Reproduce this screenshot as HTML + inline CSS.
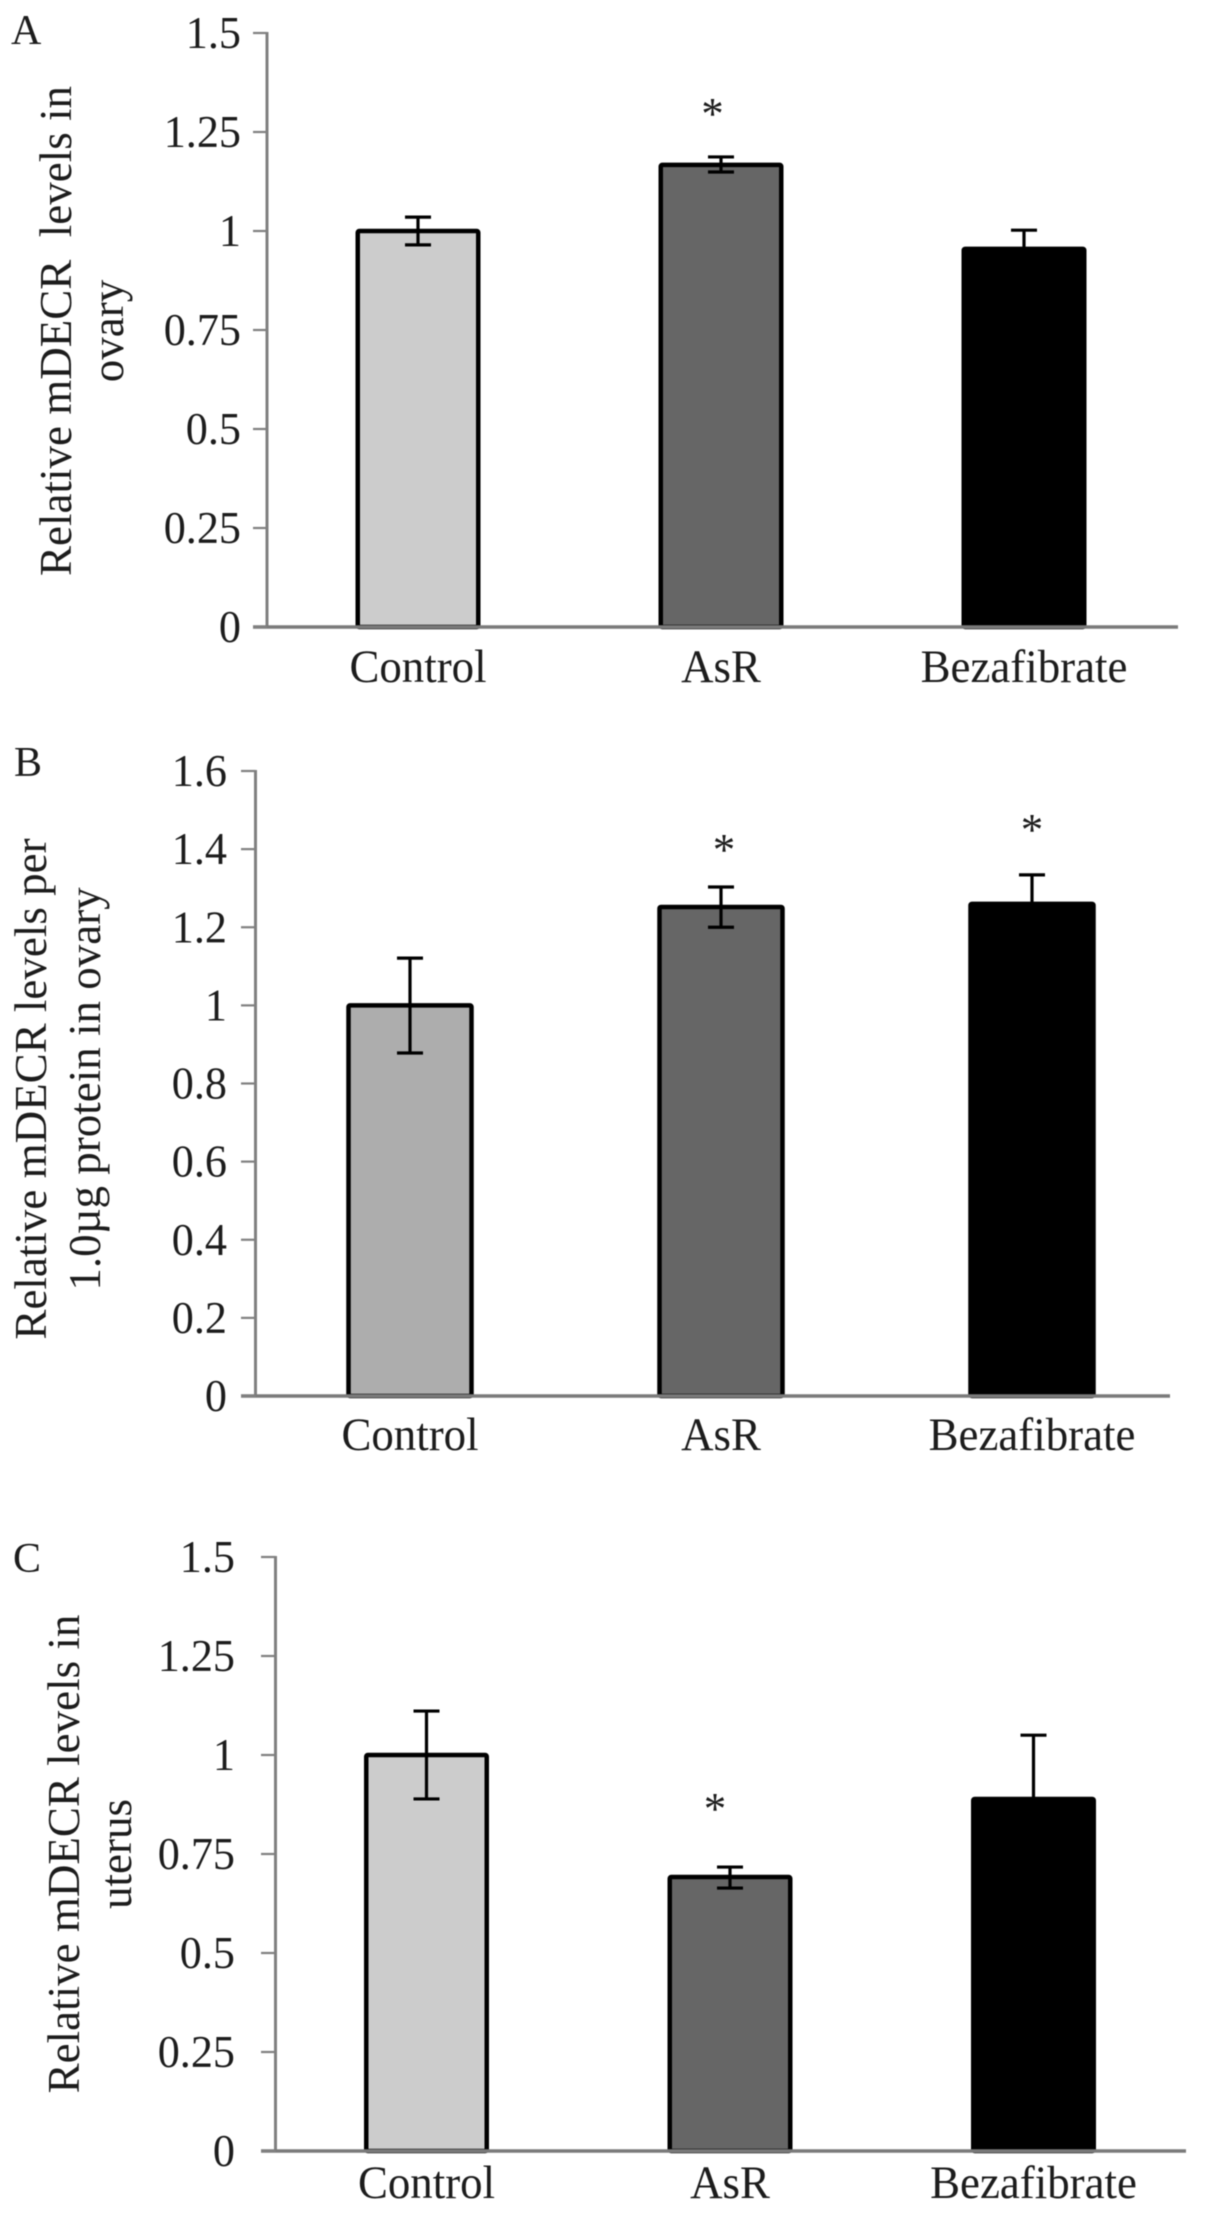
<!DOCTYPE html>
<html lang="en">
<head>
<meta charset="utf-8">
<title>Relative mDECR levels</title>
<style>
html,body{margin:0;padding:0;background:#fff;width:1205px;height:2213px;overflow:hidden}
svg{display:block;filter:blur(0.6px)}
text{font-family:"Liberation Serif",serif;fill:#1c1c1c}
</style>
</head>
<body>
<svg id="figure" xmlns="http://www.w3.org/2000/svg" width="1205" height="2213" viewBox="0 0 1205 2213"></svg>
<script>
// Shared categories
const categories = ['Control', 'AsR', 'Bezafibrate'];
const groupColors = ['#cccccc', '#666666', '#000000'];

// Panel A
const valuesA = [1.0, 1.167, 0.955];
const errUpperA = [1.035, 1.187, 1.002];
const errLowerA = [0.965, 1.149, 0.905];
const starLevelsA = [null, 1.313, null];
const tickValuesA = [0, 0.25, 0.5, 0.75, 1, 1.25, 1.5];
const tickLabelsA = ['0', '0.25', '0.5', '0.75', '1', '1.25', '1.5'];
const titleLinesA = ['Relative mDECR  levels in', 'ovary'];

// Panel B
const valuesB = [1.0, 1.252, 1.26];
const errUpperB = [1.121, 1.303, 1.334];
const errLowerB = [0.878, 1.2, 1.19];
const starLevelsB = [null, 1.416, 1.467];
const tickValuesB = [0, 0.2, 0.4, 0.6, 0.8, 1, 1.2, 1.4, 1.6];
const tickLabelsB = ['0', '0.2', '0.4', '0.6', '0.8', '1', '1.2', '1.4', '1.6'];
const titleLinesB = ['Relative mDECR levels per', '1.0µg protein in ovary'];

// Panel C
const valuesC = [1.0, 0.692, 0.889];
const errUpperC = [1.111, 0.717, 1.05];
const errLowerC = [0.889, 0.664, 0.73];
const starLevelsC = [null, 0.881, null];
const tickValuesC = [0, 0.25, 0.5, 0.75, 1, 1.25, 1.5];
const tickLabelsC = ['0', '0.25', '0.5', '0.75', '1', '1.25', '1.5'];
const titleLinesC = ['Relative mDECR levels in', 'uterus'];

const svg = document.getElementById('figure');
const NS = 'http://www.w3.org/2000/svg';

function make(parent, tag, attrs, content) {
  const el = document.createElementNS(NS, tag);
  for (const k in attrs) el.setAttribute(k, attrs[k]);
  if (content !== undefined) el.textContent = content;
  parent.appendChild(el);
  return el;
}

function drawPanel(p) {
  const yScale = v => p.y0 - (v / p.yMax) * (p.y0 - p.yTop);
  const xScale = i => p.xStart + p.xStep * i;

  const g = make(svg, 'g', {});
  
  

  const letter = make(g, 'text', {x: p.letterX, y: p.letterY, 'font-size': 42}, p.letter);
  
  

  p.titleLines.forEach((line, i) => {
    const bx = p.titleX + i * p.titleStep;
    const t = make(g, 'text', {
      x: bx, y: p.titleY, 'font-size': 45, 'text-anchor': 'middle',
      transform: 'rotate(-90 ' + bx + ' ' + p.titleY + ')',
      style: 'white-space:pre'
    }, line);
    
    
  });

  categories.forEach((cat, i) => {
    const cx = xScale(i);
    const top = yScale(p.values[i]);
    const bar = make(g, 'rect', {
      x: cx - p.barWidth / 2 + 2.25, y: top, width: p.barWidth - 4.5, height: p.y0 - top,
      rx: 1.5, fill: p.colors[i], stroke: '#000', 'stroke-width': 4.5
    });
    
    

    const up = yScale(p.errUpper[i]);
    const low = yScale(p.errLower[i]);
    const err = make(g, 'path', {
      d: 'M' + cx + ' ' + up + 'V' + low +
         'M' + (cx - p.capWidth / 2) + ' ' + up + 'H' + (cx + p.capWidth / 2) +
         'M' + (cx - p.capWidth / 2) + ' ' + low + 'H' + (cx + p.capWidth / 2),
      fill: 'none', stroke: '#000', 'stroke-width': 3.2
    });
    
    

    if (p.starLevels[i] !== null) {
      const star = make(g, 'text', {
        x: cx + (p.starShift[i] || 0), y: yScale(p.starLevels[i]) + 22,
        'font-size': 45, 'text-anchor': 'middle'
      }, '*');
      
      
    }

    const label = make(g, 'text', {
      'font-size': 47, 'text-anchor': 'middle',
      transform: 'translate(' + (cx + p.labelShift) + ' ' + p.labelY + ') scale(0.955 1)'
    }, cat);
    
    
  });

  const yAxis = make(g, 'line', {
    x1: p.xAxis, x2: p.xAxis, y1: p.yTop - 1, y2: p.y0,
    stroke: '#808080', 'stroke-width': 3
  });
  
  

  const xAxis = make(g, 'line', {
    x1: p.tickStart, x2: p.xEnd, y1: p.y0, y2: p.y0,
    stroke: '#7a7a7a', 'stroke-width': 3.5
  });
  
  

  p.tickValues.forEach((v, i) => {
    const y = yScale(v);
    const tick = make(g, 'line', {
      x1: p.tickStart, x2: p.xAxis, y1: y, y2: y,
      stroke: '#808080', 'stroke-width': 2.2
    });
    
    

    const tl = make(g, 'text', {
      'font-size': 46, 'text-anchor': 'end',
      transform: 'translate(' + p.tickLabelX + ' ' + (y + 15) + ') scale(0.96 1)'
    }, p.tickLabels[i]);
    
    
  });
}

drawPanel({
  key: 'a', letter: 'A', letterX: 11, letterY: 44,
  values: valuesA, errUpper: errUpperA, errLower: errLowerA, starLevels: starLevelsA,
  tickValues: tickValuesA, tickLabels: tickLabelsA, titleLines: titleLinesA,
  colors: groupColors, yMax: 1.5,
  yTop: 33, y0: 627, xAxis: 267, tickStart: 253, xEnd: 1178,
  xStart: 418, xStep: 303, barWidth: 125, capWidth: 26,
  tickLabelX: 241, labelY: 682, labelShift: 0,
  titleX: 71, titleY: 331, titleStep: 52, starShift: {1: -8.5}
});

drawPanel({
  key: 'b', letter: 'B', letterX: 14, letterY: 776,
  values: valuesB, errUpper: errUpperB, errLower: errLowerB, starLevels: starLevelsB,
  tickValues: tickValuesB, tickLabels: tickLabelsB, titleLines: titleLinesB,
  colors: ['#adadad', '#666666', '#000000'], yMax: 1.6,
  yTop: 771, y0: 1396, xAxis: 255.5, tickStart: 241, xEnd: 1170,
  xStart: 410, xStep: 311, barWidth: 127.5, capWidth: 26,
  tickLabelX: 227, labelY: 1450, labelShift: 0,
  titleX: 46, titleY: 1089, titleStep: 54, starShift: {1: 3}
});

drawPanel({
  key: 'c', letter: 'C', letterX: 13, letterY: 1572,
  values: valuesC, errUpper: errUpperC, errLower: errLowerC, starLevels: starLevelsC,
  tickValues: tickValuesC, tickLabels: tickLabelsC, titleLines: titleLinesC,
  colors: groupColors, yMax: 1.5,
  yTop: 1557, y0: 2151, xAxis: 275.5, tickStart: 261, xEnd: 1186,
  xStart: 426.5, xStep: 303.5, barWidth: 125, capWidth: 26,
  tickLabelX: 235, labelY: 2198, labelShift: 0,
  titleX: 79, titleY: 1854, titleStep: 52, starShift: {1: -15}
});
</script>
</body>
</html>
